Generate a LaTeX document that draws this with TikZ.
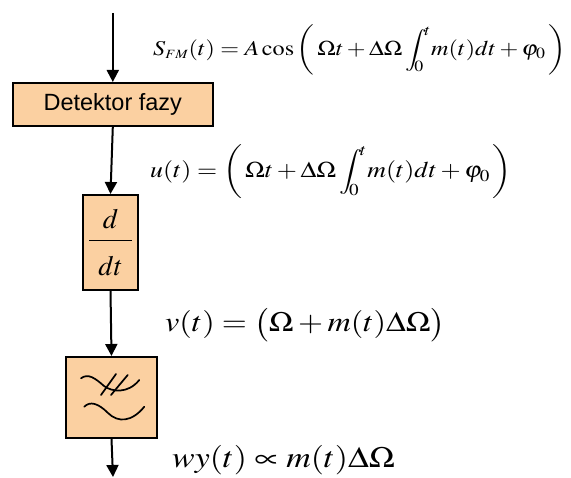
\documentclass[tikz,border=0pt]{standalone}
\usepackage{amsmath}
\usepackage{mathptmx}
\usepackage[no-math]{fontspec}
\newfontfamily\arialfont{Liberation Sans}
\usetikzlibrary{arrows.meta}
\definecolor{boxfill}{RGB}{251,208,161}
\tikzset{
  blk/.style={draw=black, line width=2pt, fill=boxfill, inner sep=0pt, minimum width=#1},
  conn/.style={line width=2pt, -{Triangle[length=12pt,width=12pt]}},
  eq/.style={anchor=west, inner sep=0pt},
  wave/.style={line width=1.7pt, line cap=round}
}
\newcommand{\hstr}[1]{\scalebox{1.15}[1]{#1}}
\newcommand{\tint}{\displaystyle\int_{\kern-2.5pt 0}^{\kern-2pt t}\kern-2pt}
\begin{document}
\begin{tikzpicture}[x=1pt,y=-1pt]
\useasboundingbox (0,0) rectangle (571,478);
% blocks
\node[blk=200pt, minimum height=43pt] (det) at (112.8,104.5) {\arialfont\fontsize{23.5}{27}\selectfont Detektor fazy};
\node[blk=55pt, minimum height=95pt] (ddt) at (110.5,242.5) {\fontsize{28}{32}\selectfont$\dfrac{\rule[-8pt]{0pt}{8pt}d}{\rule{0pt}{31pt}\hspace{9pt}dt\hspace{9pt}}$};
\node[blk=91pt, minimum height=81pt] (filt) at (111.5,397.5) {};
% filter symbol
\draw[wave] (81,378.3) .. controls (88,373) and (95,378) .. (104,386) .. controls (112,392) and (128,394) .. (139.3,380);
\draw[wave] (101,395) -- (116,374);
\draw[wave] (111,395) -- (127.7,375);
\draw[wave] (84.3,406.7) .. controls (90,401) and (98,403) .. (108,413) .. controls (118,423) and (132,422) .. (144.3,406.7);
% connectors
\coordinate (in) at (112.8,13);
\coordinate (out) at (113,477);
\draw[conn] (in) -- (det.north);
\draw[conn] (det.south) -- (ddt.north);
\draw[conn] (ddt.south) -- (filt.north);
\draw[conn] (filt.south) -- (out);
% equations
\node[eq] (e1) at (153,50) {\hstr{\fontsize{21}{25}\selectfont$S_{\scriptscriptstyle FM}(t)=A\cos\left(\,\Omega t+\Delta\Omega\tint m(t)dt+\varphi_0\,\right)$}};
\node[eq] (e2) at (150,172) {\hstr{\fontsize{22.5}{26}\selectfont$u(t)=\left(\,\Omega t+\Delta\Omega\tint m(t)dt+\varphi_0\,\right)$}};
\node[eq] (e3) at (165,325) {\hstr{\fontsize{28}{32}\selectfont$v(t)=\left(\rule[-10pt]{0pt}{29pt}\Omega+m(t)\Delta\Omega\right)$}};
\node[eq] (e4) at (172,460) {\hstr{\fontsize{29.5}{33}\selectfont$wy(t)\propto m(t)\Delta\Omega$}};
\end{tikzpicture}
\end{document}
